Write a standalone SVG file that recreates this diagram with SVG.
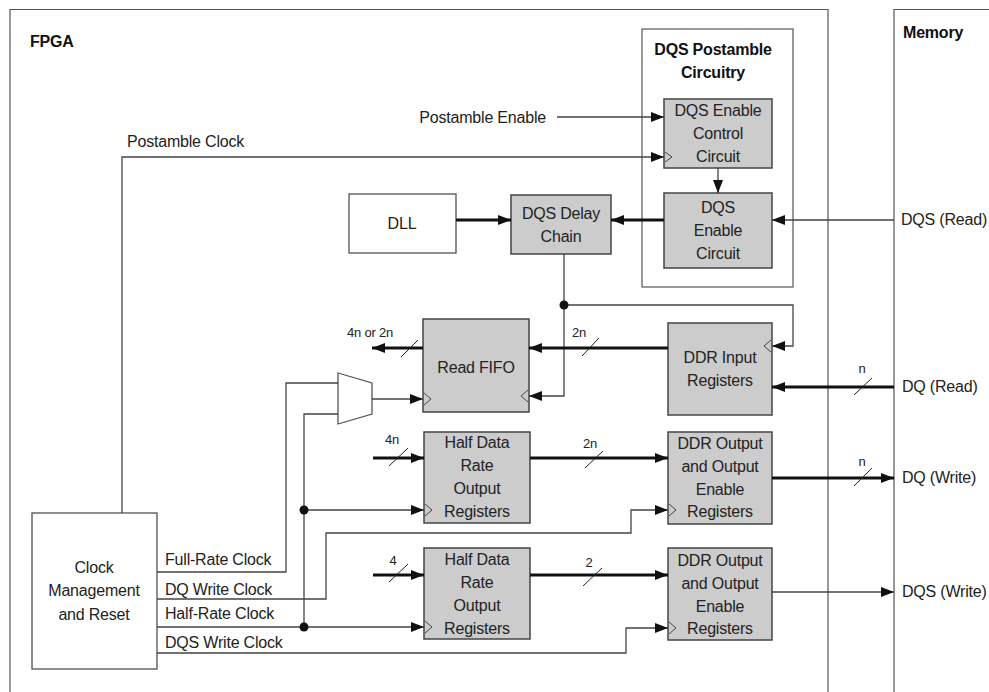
<svg xmlns="http://www.w3.org/2000/svg" width="989" height="692" viewBox="0 0 989 692">
<defs>
<style>
text{font-family:"Liberation Sans",Arial,sans-serif;font-size:16px;fill:#222;letter-spacing:-0.2px}
.b{font-weight:bold;fill:#111}
.c{text-anchor:middle}
.s{font-size:13px}
.frame{fill:none;stroke:#555;stroke-width:1.2}
.blk{fill:#cccccc;stroke:#444;stroke-width:1.5}
.wblk{fill:#ffffff;stroke:#444;stroke-width:1.2}
.thin{fill:none;stroke:#444;stroke-width:1.3}
.thick{fill:none;stroke:#111;stroke-width:3}
.clk{fill:none;stroke:#444;stroke-width:1}
.sl{stroke:#222;stroke-width:1}
.dot{fill:#111}
</style>
<marker id="ah" markerUnits="userSpaceOnUse" markerWidth="13" markerHeight="10" refX="13" refY="5" orient="auto">
<path d="M0,0 L13,5 L0,10 z" fill="#111"/>
</marker>
</defs>
<rect width="989" height="692" fill="#ffffff"/>

<g id="fpga">
<path class="frame" d="M10,692 V9.5 H828 V692"/>
<text class="b" x="30" y="47">FPGA</text>
</g>
<g id="memory">
<path class="frame" d="M894,692 V9.5 H989"/>
<text class="b" x="903" y="38">Memory</text>
</g>
<g id="postamble">
<rect class="frame" x="642" y="29" width="151" height="258"/>
<text class="b c" x="713" y="55">DQS Postamble</text>
<text class="b c" x="713" y="78">Circuitry</text>
</g>
<g id="enable-control">
<rect class="blk" x="664" y="99" width="108" height="69"/>
<text class="c" x="718" y="116">DQS Enable</text>
<text class="c" x="718" y="139">Control</text>
<text class="c" x="718" y="162">Circuit</text>
<path class="clk" d="M665,152 L672,157 L665,162"/>
</g>
<g id="enable-circuit">
<rect class="blk" x="664" y="193" width="108" height="75"/>
<text class="c" x="718" y="213">DQS</text>
<text class="c" x="718" y="236">Enable</text>
<text class="c" x="718" y="259">Circuit</text>
</g>
<g id="dll">
<rect class="wblk" x="349" y="194" width="107" height="59"/>
<text class="c" x="402" y="229">DLL</text>
</g>
<g id="delay-chain">
<rect class="blk" x="511" y="195" width="100" height="59"/>
<text class="c" x="561" y="219">DQS Delay</text>
<text class="c" x="561" y="242">Chain</text>
</g>
<g id="read-fifo">
<rect class="blk" x="423" y="319" width="106" height="93"/>
<text class="c" x="476" y="373">Read FIFO</text>
<path class="clk" d="M424,393 L431,399 L424,405"/>
<path class="clk" d="M528,390 L521,396 L528,402"/>
</g>
<g id="ddr-input">
<rect class="blk" x="668" y="323" width="104" height="92"/>
<text class="c" x="720" y="363">DDR Input</text>
<text class="c" x="720" y="386">Registers</text>
<path class="clk" d="M771,340 L764,346 L771,352"/>
</g>
<g id="mux">
<polygon points="338,373 372,383 372,414 338,424" fill="#fff" stroke="#555" stroke-width="1.3"/>
</g>
<g id="hdr-top">
<rect class="blk" x="424" y="432" width="106" height="91"/>
<text class="c" x="477" y="448">Half Data</text>
<text class="c" x="477" y="471">Rate</text>
<text class="c" x="477" y="494">Output</text>
<text class="c" x="477" y="517">Registers</text>
<path class="clk" d="M425,504 L432,510 L425,516"/>
</g>
<g id="ddr-out-top">
<rect class="blk" x="668" y="432" width="104" height="92"/>
<text class="c" x="720" y="449">DDR Output</text>
<text class="c" x="720" y="472">and Output</text>
<text class="c" x="720" y="495">Enable</text>
<text class="c" x="720" y="517">Registers</text>
<path class="clk" d="M669,504 L676,510 L669,516"/>
</g>
<g id="hdr-bottom">
<rect class="blk" x="424" y="548" width="106" height="91"/>
<text class="c" x="477" y="565">Half Data</text>
<text class="c" x="477" y="588">Rate</text>
<text class="c" x="477" y="611">Output</text>
<text class="c" x="477" y="634">Registers</text>
<path class="clk" d="M425,621 L432,627 L425,633"/>
</g>
<g id="ddr-out-bottom">
<rect class="blk" x="668" y="548" width="104" height="92"/>
<text class="c" x="720" y="566">DDR Output</text>
<text class="c" x="720" y="589">and Output</text>
<text class="c" x="720" y="612">Enable</text>
<text class="c" x="720" y="634">Registers</text>
<path class="clk" d="M669,622 L676,628 L669,634"/>
</g>
<g id="clock-mgmt">
<rect class="wblk" x="32" y="513" width="125" height="156"/>
<text class="c" x="94" y="573">Clock</text>
<text class="c" x="94" y="596">Management</text>
<text class="c" x="94" y="620">and Reset</text>
</g>

<g id="connectors">
<path class="thin" d="M557,117 H664" marker-end="url(#ah)"/>
<path class="thin" d="M122,513 V157 H664" marker-end="url(#ah)"/>
<path class="thin" d="M718,168 V193" marker-end="url(#ah)"/>
<path class="thin" d="M894,220 H772" marker-end="url(#ah)"/>
<path class="thick" d="M456,220 H511" marker-end="url(#ah)"/>
<path class="thick" d="M664,220 H611" marker-end="url(#ah)"/>
<path class="thin" d="M564,254 V396 H529" marker-end="url(#ah)"/>
<path class="thin" d="M564,305 H793 V346 H772" marker-end="url(#ah)"/>
<circle class="dot" cx="564" cy="305" r="4.5"/>
<path class="thick" d="M668,348 H529" marker-end="url(#ah)"/>
<path class="thick" d="M423,348 H372" marker-end="url(#ah)"/>
<path class="thick" d="M894,387 H772" marker-end="url(#ah)"/>
<path class="thin" d="M372,399 H423" marker-end="url(#ah)"/>
<path class="thin" d="M157,572 H286 V383 H338"/>
<path class="thin" d="M338,414 H304 V627"/>
<path class="thin" d="M157,627 H424" marker-end="url(#ah)"/>
<path class="thin" d="M304,510 H424" marker-end="url(#ah)"/>
<circle class="dot" cx="304" cy="510" r="4.5"/>
<circle class="dot" cx="304" cy="627" r="4.5"/>
<path class="thin" d="M157,599 H326 V533 H631 V510 H668" marker-end="url(#ah)"/>
<path class="thin" d="M157,653 H626 V628 H668" marker-end="url(#ah)"/>
<path class="thick" d="M373,458 H424" marker-end="url(#ah)"/>
<path class="thick" d="M530,458 H668" marker-end="url(#ah)"/>
<path class="thick" d="M772,478 H894" marker-end="url(#ah)"/>
<path class="thick" d="M373,575 H424" marker-end="url(#ah)"/>
<path class="thick" d="M530,575 H668" marker-end="url(#ah)"/>
<path class="thin" d="M772,592 H894" marker-end="url(#ah)"/>
<line class="sl" x1="401" y1="357" x2="418" y2="340"/>
<line class="sl" x1="582" y1="356" x2="599" y2="338"/>
<line class="sl" x1="854" y1="395" x2="872" y2="378"/>
<line class="sl" x1="389" y1="466" x2="408" y2="448"/>
<line class="sl" x1="585" y1="468" x2="603" y2="451"/>
<line class="sl" x1="854" y1="486" x2="872" y2="468"/>
<line class="sl" x1="389" y1="582" x2="408" y2="564"/>
<line class="sl" x1="583" y1="586" x2="602" y2="568"/>
</g>

<g id="labels">
<text x="546" y="123" text-anchor="end">Postamble Enable</text>
<text x="127" y="147">Postamble Clock</text>
<text x="901" y="225">DQS (Read)</text>
<text x="902" y="392">DQ (Read)</text>
<text x="902" y="483">DQ (Write)</text>
<text x="902" y="597">DQS (Write)</text>
<text x="165" y="565">Full-Rate Clock</text>
<text x="165" y="595">DQ Write Clock</text>
<text x="165" y="619">Half-Rate Clock</text>
<text x="165" y="648">DQS Write Clock</text>
<text class="s c" x="370" y="337">4n or 2n</text>
<text class="s c" x="579" y="337">2n</text>
<text class="s c" x="862" y="373">n</text>
<text class="s c" x="392" y="444">4n</text>
<text class="s c" x="590" y="448">2n</text>
<text class="s c" x="862" y="466">n</text>
<text class="s c" x="393" y="565">4</text>
<text class="s c" x="589" y="567">2</text>
</g>
</svg>
